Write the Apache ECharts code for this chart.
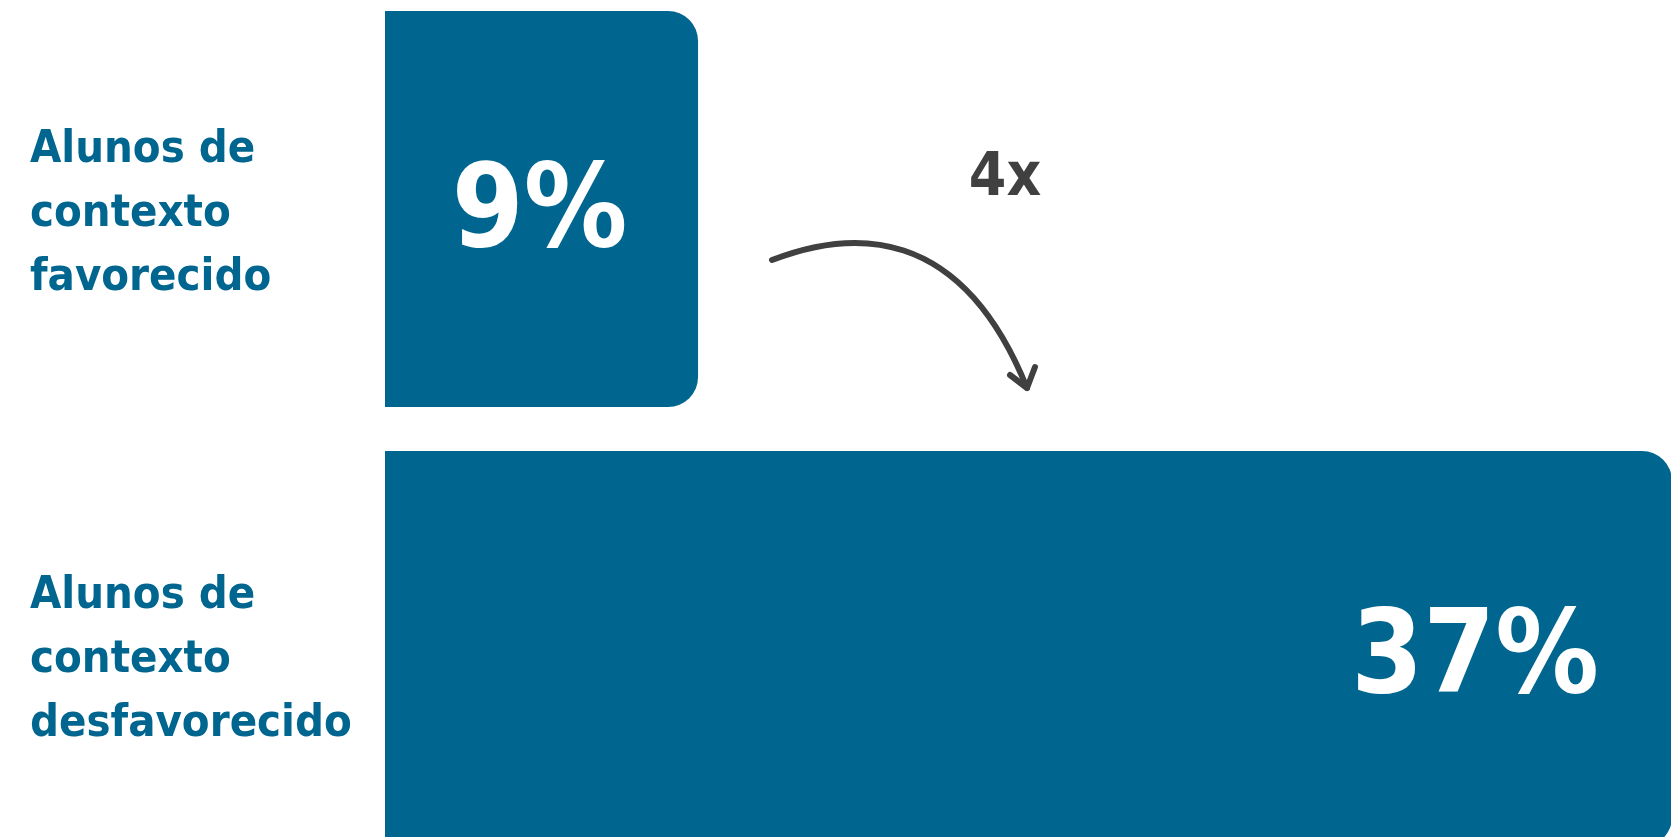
<!DOCTYPE html>
<html>
<head>
<meta charset="utf-8">
<script src="https://cdn.jsdelivr.net/npm/echarts@6/dist/echarts.min.js"></script>
<style>
html,body{margin:0;padding:0;background:#ffffff;}
#chart{width:1671px;height:837px;}
</style>
</head>
<body>
<div id="chart"></div>
<script>
// Data
const categories = ['Alunos de\ncontexto\nfavorecido', 'Alunos de\ncontexto\ndesfavorecido'];
const values = [9, 37];
const ratioLabel = '4x';

const FONT = '"DejaVu Sans Condensed", "Liberation Sans Narrow", "DejaVu Sans", sans-serif';
const BLUE = '#00668f';
const DARK = '#404040';

const chart = echarts.init(document.getElementById('chart'), null, {renderer: 'canvas'});

const labelRich = {
  t: {color: BLUE, fontFamily: FONT, fontWeight: 'bold', fontSize: 45, lineHeight: 64, align: 'left'},
  g0: {fontSize: 2, lineHeight: 10},
  g1: {fontSize: 2, lineHeight: 22}
};

chart.setOption({
  animation: false,
  backgroundColor: '#ffffff',
  grid: {left: 385, right: -1, top: -11, bottom: -32, containLabel: false, outerBoundsMode: 'none'},
  xAxis: {
    type: 'value', min: 0, max: 37, show: false
  },
  yAxis: {
    type: 'category',
    inverse: true,
    data: categories,
    axisLine: {show: false},
    axisTick: {show: false},
    splitLine: {show: false},
    axisLabel: {
      align: 'left',
      margin: 355,
      color: BLUE,
      fontFamily: FONT,
      fontWeight: 'bold',
      fontSize: 45,
      lineHeight: 64,
      formatter: function (value, index) {
        const lines = value.split('\n').map(s => '{t|' + s + '}');
        return '{g' + index + '| }\n' + lines.join('\n');
      },
      rich: labelRich
    }
  },
  series: [{
    type: 'bar',
    barCategoryGap: '10%',
    itemStyle: {color: BLUE, borderRadius: [0, 30, 30, 0]},
    label: {
      show: true,
      formatter: '{c}%',
      color: '#ffffff',
      fontFamily: FONT,
      fontWeight: 'bold',
      fontSize: 115
    },
    data: [
      {value: values[0], label: {position: 'inside', offset: [-2, 7]}},
      {value: values[1], label: {position: 'insideRight', distance: 73, offset: [0, 13]}}
    ]
  }],
  graphic: [
    {
      type: 'bezierCurve',
      shape: {x1: 772, y1: 260, cpx1: 850, cpy1: 230, cpx2: 960, cpy2: 222, x2: 1027, y2: 388},
      style: {stroke: DARK, lineWidth: 6, fill: null, lineCap: 'round'},
      silent: true
    },
    {
      type: 'polyline',
      shape: {points: [[1010, 375], [1027, 388], [1035, 367]]},
      style: {stroke: DARK, lineWidth: 6, fill: null, lineCap: 'round', lineJoin: 'round'},
      silent: true
    },
    {
      type: 'text',
      x: 1005, y: 179,
      style: {
        text: ratioLabel,
        fill: DARK,
        fontFamily: FONT,
        fontWeight: 'bold',
        fontSize: 60,
        align: 'center', verticalAlign: 'middle',
        textAlign: 'center', textVerticalAlign: 'middle'
      },
      silent: true
    }
  ]
});
</script>
</body>
</html>
